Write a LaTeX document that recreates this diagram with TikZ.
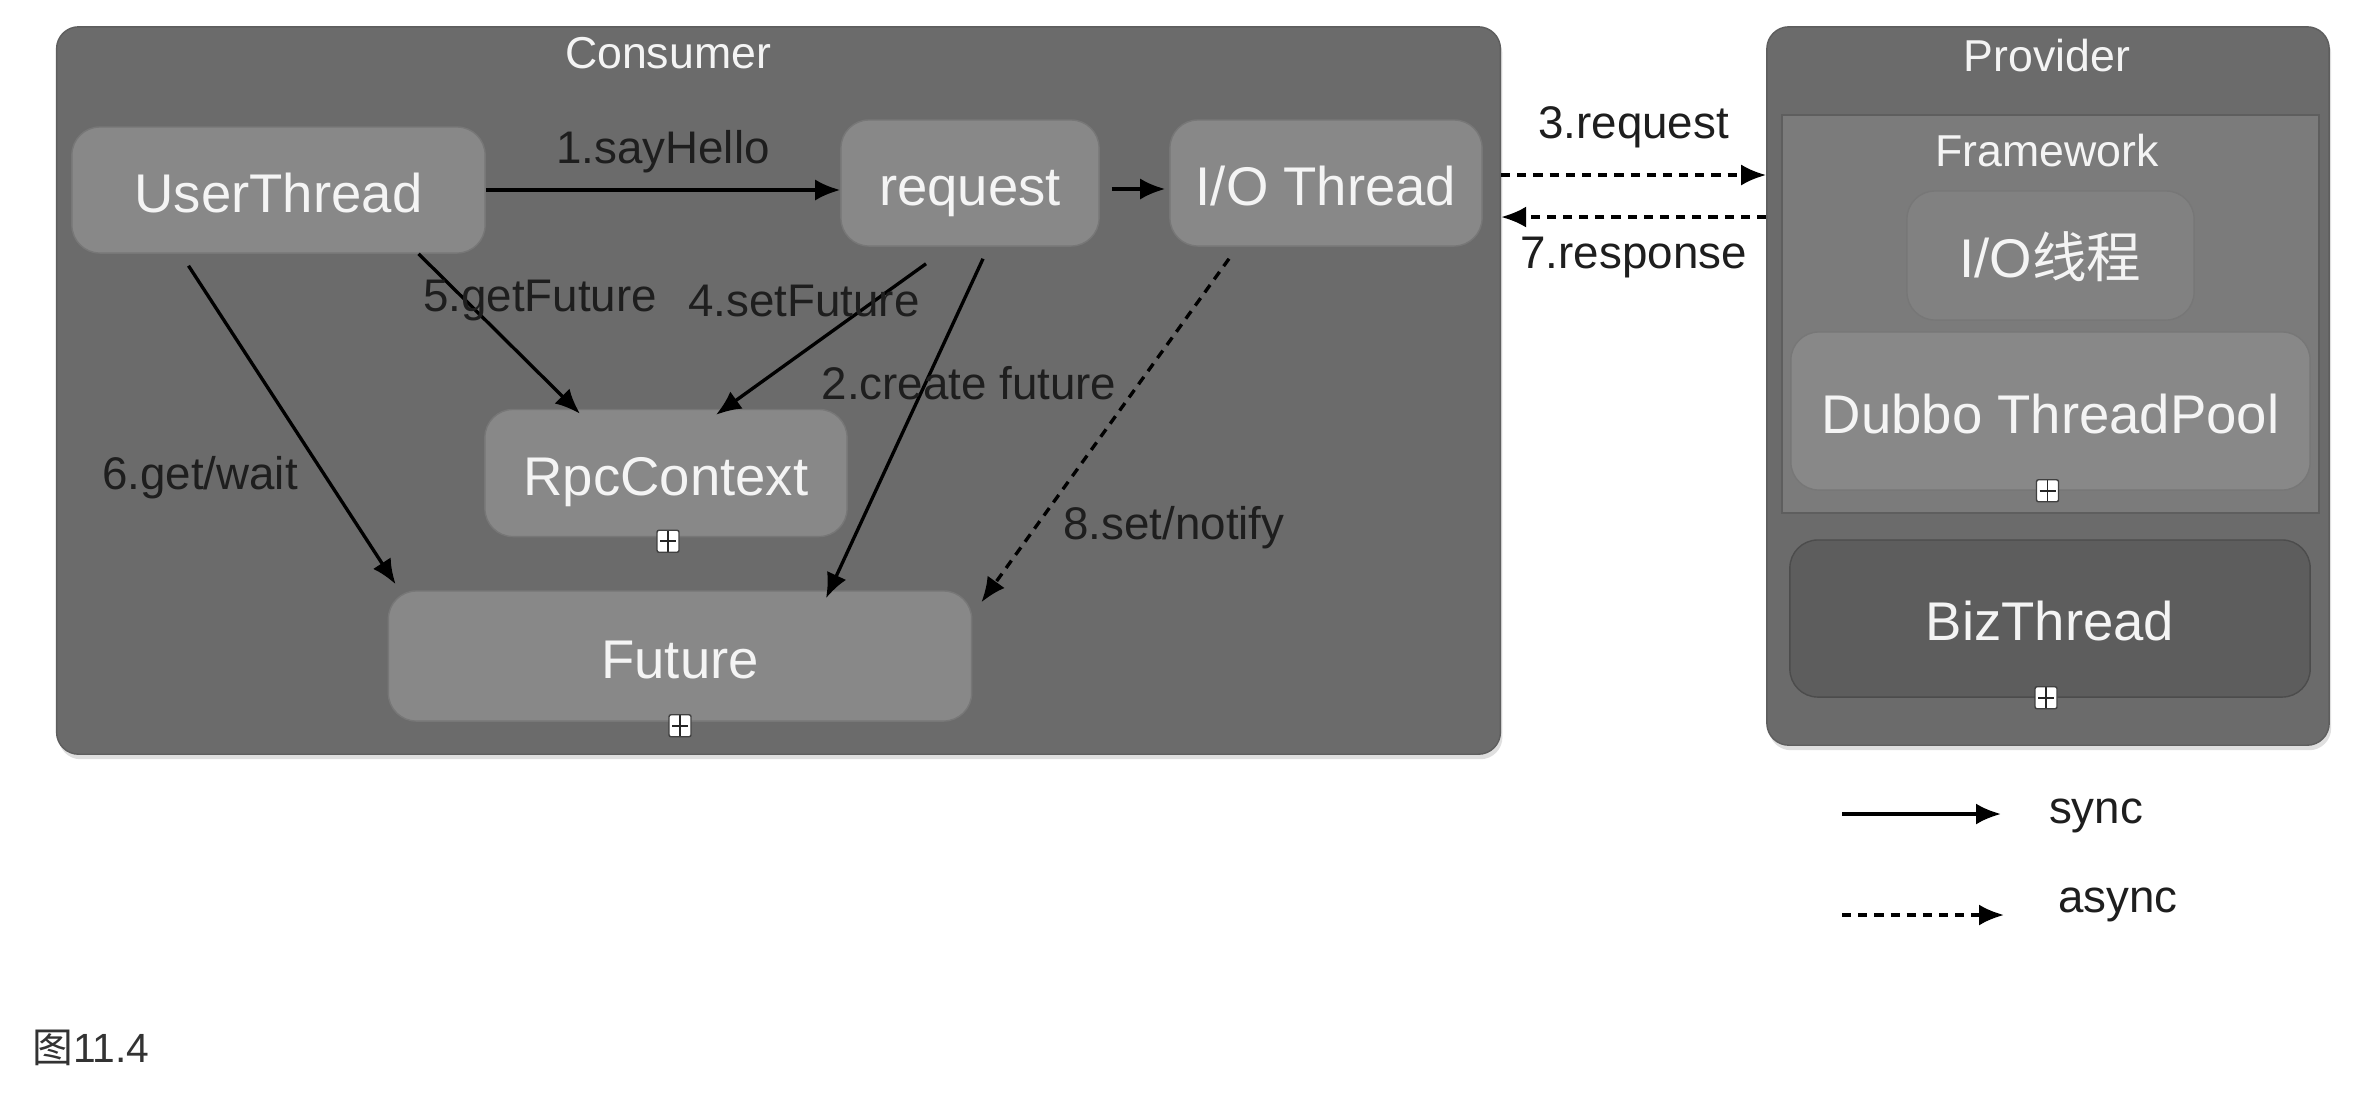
\documentclass[tikz,border=0pt]{standalone}
\usepackage{fontspec}
\setmainfont{Liberation Sans}
\newfontfamily\cjk{Noto Sans CJK SC}
\usepackage{tikz}
\usetikzlibrary{calc}
\usetikzlibrary{positioning}
\usetikzlibrary{arrows.meta}
\usetikzlibrary{shadows}

\definecolor{groupgray}{HTML}{6B6B6B}
\definecolor{groupedge}{HTML}{5E5E5E}
\definecolor{framegray}{HTML}{7B7B7B}
\definecolor{threadgray}{HTML}{888888}
\definecolor{threadedge}{HTML}{777777}
\definecolor{bizgray}{HTML}{5D5D5D}
\definecolor{bizedge}{HTML}{4C4C4C}
\definecolor{textwhite}{HTML}{F4F4F4}
\definecolor{textdark}{HTML}{1E1E1E}

\tikzset{
  group/.style={rounded corners=0.22cm, fill=groupgray, draw=groupedge, inner sep=0,
    drop shadow={opacity=0.25, shadow xshift=0.02cm, shadow yshift=-0.05cm}},
  thread/.style={rounded corners=0.28cm, fill=threadgray, draw=threadedge, inner sep=0,
    text height=15.6pt, text depth=3pt,
    text=textwhite, font=\fontsize{15.5}{18}\selectfont},
  title/.style={text=textwhite, font=\fontsize{12.7}{15}\selectfont},
  lbl/.style={text=textdark, font=\fontsize{13}{15}\selectfont},
  sync/.style={line width=0.95pt, -{Latex[length=2.5mm, width=2.1mm]}},
  async/.style={sync, dash pattern=on 2.6pt off 2pt},
  expand/.style={draw=black!75, fill=white, minimum size=0.22cm, inner sep=0,
    rounded corners=0.02cm,
    path picture={\draw[black!85, line width=0.5pt]
      ($(path picture bounding box.north)+(0,-3)$) -- ($(path picture bounding box.south)+(0,3)$)
      ($(path picture bounding box.west)+(3,0)$) -- ($(path picture bounding box.east)+(-3,0)$);}}
}

\begin{document}
\begin{tikzpicture}[x=0.01cm, y=-0.01cm]
				\useasboundingbox[fill=white] (0,0) rectangle (2364,1096);
				
				% consumer side
				\node[group, minimum width=14.43cm, minimum height=7.27cm] (consumer) at (778.5,390.5) {};
				\node[title] (consumerT) at (668,53) {Consumer};
				
				\node[thread, minimum width=4.13cm, minimum height=1.26cm] (UT) at (278.5,190) {UserThread};
				\node[thread, minimum width=2.58cm, minimum height=1.26cm] (req) at (970,183) {request};
				\node[thread, minimum width=3.12cm, minimum height=1.26cm] (IO) at (1326,183) {I/O Thread};
				\node[thread, minimum width=3.62cm, minimum height=1.27cm] (RC) at (666,473) {RpcContext};
				\node[thread, minimum width=5.83cm, minimum height=1.30cm] (FT) at (680,656) {Future};
				\node[expand] (RCx) at ($(RC.south)+(2,4)$) {};
				\node[expand] (FTx) at ($(FT.south)+(0,4)$) {};
				
				% provider side
				\node[group, minimum width=5.62cm, minimum height=7.18cm] (provider) at (2048,386) {};
				\node[title] (providerT) at (2047,56) {Provider};
				\node[fill=framegray, draw=groupedge, inner sep=0, minimum width=5.37cm, minimum height=3.98cm] (frame) at (2050.5,314) {};
				\node[title] (frameT) at (2047,151) {Framework};
				\node[thread, fill=threadgray!95!black, minimum width=2.87cm, minimum height=1.29cm] (IOCN) at (2050.5,255.5) {I/O{\cjk 线程}};
				\node[thread, minimum width=5.19cm, minimum height=1.58cm] (pool) at (2050.5,411) {Dubbo ThreadPool};
				\node[thread, fill=bizgray, draw=bizedge, minimum width=5.20cm, minimum height=1.57cm] (biz) at (2050,618.5) {BizThread};
				\node[expand] (poolx) at ($(pool.south)+(-3,0)$) {};
				\node[expand] (bizx) at ($(biz.south)+(-4,0)$) {};
				
				% calls
				\draw[sync]  (UT.east) -- (UT.east -| req.west) node[midway, above=1pt, lbl] (l1) {1.sayHello};
				\draw[sync]  ($(req.east)+(12,6)$) -- ($(IO.west)+(-4,6)$);
				\draw[sync]  ($(req.south)+(13,12)$) -- ($(FT.north)+(146,8)$);
				\draw[async] (consumer.east |- 0,175) -- (provider.west |- 0,175) node[midway, above=4pt, lbl] (l3) {3.request};
				\draw[sync]  ($(req.south)+(-44,17)$) -- ($(RC.north)+(50,6)$);
				\draw[sync]  ($(UT.south)+(140,0)$) -- ($(RC.north)+(-86,5)$);
				\draw[sync]  ($(UT.south)+(-90,12)$) -- ($(FT.north west)+(8,-6)$);
				\draw[async] (provider.west |- 0,217) -- (consumer.east |- 0,217) node[midway, below=2pt, lbl] (l7) {7.response};
				\draw[async] ($(IO.south)+(-97,12)$) -- ($(FT.north east)+(9,12)$);
				
				\node[lbl] (l2) at (969,383) {2.create future};
				\node[lbl] (l4) at (804,301) {4.setFuture};
				\node[lbl] (l5) at (540,301) {5.getFuture};
				\node[lbl] (l6) at (200,478) {6.get/wait};
				\node[lbl] (l8) at (1174,528) {8.set/notify};
				
				% legend
				\node[lbl] (syncL) at (2096,816) {sync};
				\node[lbl] (asyncL) at (2118,905) {async};
				\coordinate (s0) at (1842,814);
				\coordinate (s1) at (2001,814);
				\coordinate (a0) at (1842,915);
				\coordinate (a1) at (2004,915);
				\draw[sync]  (s0) -- (s1);
				\draw[async] (a0) -- (a1);
				
				\node[anchor=west, text=black!80, font=\fontsize{11.6}{14}\selectfont] (cap) at (20,1048) {{\cjk 图}11.4};
			\end{tikzpicture}
\end{document}
